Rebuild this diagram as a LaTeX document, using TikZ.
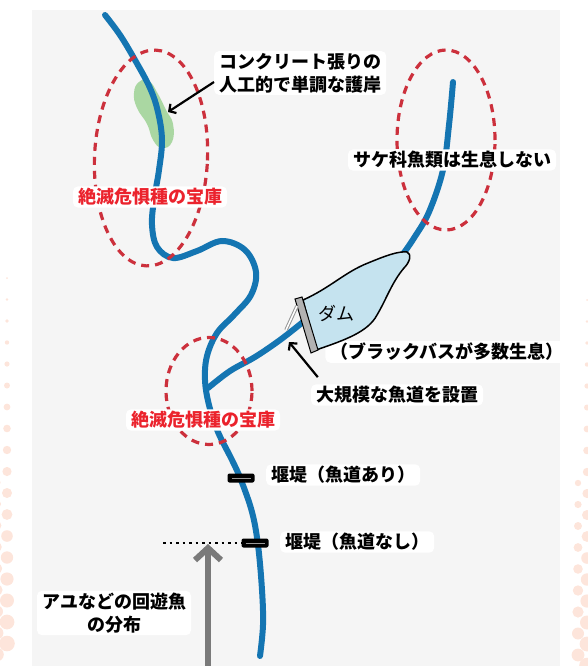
\documentclass[tikz,border=0pt]{standalone}
\usepackage{fontspec}
\setmainfont{Noto Sans CJK JP}
\usetikzlibrary{arrows.meta,shapes.geometric}

\definecolor{riverblue}{RGB}{20,117,178}
\definecolor{zonered}{RGB}{204,48,60}
\definecolor{textred}{RGB}{235,35,45}
\definecolor{panelgray}{RGB}{245,245,245}
\definecolor{damblue}{RGB}{197,227,239}
\definecolor{bankgreen}{RGB}{158,210,148}
\definecolor{dotpink}{RGB}{253,229,219}
\definecolor{arrowgray}{RGB}{122,122,122}

\tikzset{
	river/.style		={draw=riverblue,line width=6pt,line cap=round},
	zone/.style			={ellipse,draw=zonered,line width=3.2pt,dash pattern=on 8pt off 6pt,inner sep=0pt},
	note/.style			={fill=white,rounded corners=5pt,inner xsep=5pt,inner ysep=2pt,font=\fontsize{18}{23}\selectfont\bfseries},
	pointer/.style		={draw=black,line width=2.2pt,-{Straight Barb[length=5pt,width=11pt]}},
	weir/.style			={fill=black,rounded corners=2pt,minimum width=27pt,minimum height=9pt,inner sep=0pt,
						  path picture={\draw[white!60!black,line width=1pt] ([xshift=4pt]path picture bounding box.west) -- ([xshift=-4pt]path picture bounding box.east);}},
}

\begin{document}
\begin{tikzpicture}[x=1pt,y=-1pt]
	\useasboundingbox (0,0) rectangle (588,666);
	\fill[panelgray] (32,10) rectangle (560,666);
	\foreach \i in {0,...,17}{
		\fill[dotpink] (7,278+21.5*\i) circle[radius={1pt+0.4pt*\i}];
		\fill[dotpink] (587,300+21.5*\i) circle[radius={1pt+0.4pt*\i}];
	}
	\foreach \i in {8,...,17}{
		\fill[dotpink] (-3,289+21.5*\i) circle[radius={0.4pt*\i}];
		\fill[dotpink] (578,311+21.5*\i) circle[radius={0.4pt*\i}];
	}

	% concrete bank
	\fill[bankgreen,opacity=0.85] plot[smooth cycle,tension=0.8] coordinates
		{(139,82) (149,81) (158,94) (166,110) (173,124) (172,142) (162,148) (153,140) (147,124) (137,108) (134,93)};

	% rivers
	\draw[river] plot[smooth,tension=0.6] coordinates
		{(105,15) (120,35) (135,60) (150,88) (158,112) (162,140) (159,170) (154,200) (152,225) (157,247)
		 (173,258) (197,251) (222,241) (245,250) (256,272) (251,295) (234,315) (217,333) (207,356) (205,380)
		 (209,405) (218,432) (232,460) (241,480) (252,512) (258,545) (262,590) (263,625) (260,656)};
	\draw[river] plot[smooth,tension=0.6] coordinates
		{(208,388) (230,371) (255,357) (280,340) (303,322)};
	\draw[river] plot[smooth,tension=0.6] coordinates
		{(453,82) (449,125) (443,170) (429,212) (414,238) (403,254)};

	\node[zone,minimum width=113pt,minimum height=216pt,rotate=-2.5]	(zoneA) at (151,158) {};
	\node[zone,minimum width=98pt,minimum height=180pt]					(zoneB) at (446,140) {};
	\node[zone,minimum width=86pt,minimum height=107pt]					(zoneC) at (209,391) {};

	\node[weir]	(weirA) at (241,478) {};
	\node[weir]	(weirB) at (255,543) {};

	\node[note,anchor=west,align=left]	(concrete)	at (214,73)		{コンクリート張りの\\人工的で単調な護岸};
	\node[note,text=textred]			(treasureA)	at (150,197)	{絶滅危惧種の宝庫};
	\node[note]							(salmon)	at (452,160)	{サケ科魚類は生息しない};
	\node[note,text=textred]			(treasureB)	at (203,420)	{絶滅危惧種の宝庫};
	\node[note]							(bass)		at (447,352)	{（ブラックバスが多数生息）};
	\node[note]							(ladder)	at (397,395)	{大規模な魚道を設置};
	\node[note,anchor=west]				(weirAtext)	at (266,475)	{堰堤（魚道あり）};
	\node[note,anchor=west]				(weirBtext)	at (280,542)	{堰堤（魚道なし）};
	\node[note,align=center]			(ayu)		at (114,613)	{アユなどの回遊魚\\の分布};

	% dam and fish ladder
	\filldraw[fill=damblue,draw=black,line width=1.5pt] (303,300)
		.. controls (330,288) and (345,272) .. (368,263)
		.. controls (385,256) and (398,251) .. (407,252)
		.. controls (412,254) and (410,262) .. (404,268)
		.. controls (392,282) and (386,300) .. (377,315)
		.. controls (368,332) and (345,340) .. (316,350) -- cycle;
	\filldraw[fill=white!70!black,draw=black,line width=1pt] (295,299) -- (302,297) -- (318,350) -- (311,353) -- cycle;
	\draw[arrowgray!80,line width=1pt,double=white,double distance=1.5pt] (297,306) -- (286,330);
	\node[font=\fontsize{18}{23}\selectfont] (dam) at (336,313) {ダム};

	\coordinate (bankedge)	at (168,112);
	\coordinate (ladderfoot)	at (289,342);
	\coordinate (dotstart)	at (163,543);
	\coordinate (ayubase)	at (208,668);
	\coordinate (ayuhead)	at (208,544);

	\draw[pointer] ([yshift=-9pt]concrete.west) -- (bankedge);
	\draw[pointer] ([xshift=7pt,yshift=7pt]ladder.north west) -- (ladderfoot);
	\draw[line width=2.5pt,dash pattern=on 2.5pt off 4pt] (dotstart) -- (weirB.west);
	\draw[arrowgray,line width=6pt,-{Straight Barb[length=12pt,width=26pt]}] (ayubase) -- (ayuhead);
\end{tikzpicture}
\end{document}
